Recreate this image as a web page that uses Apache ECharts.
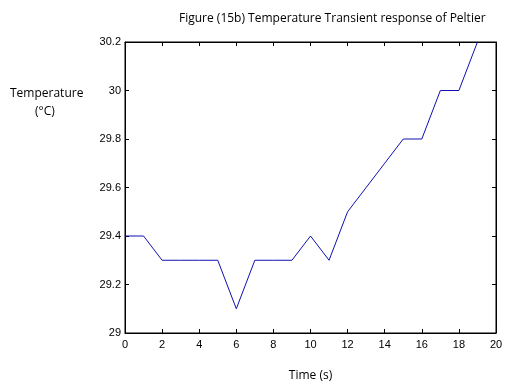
<!DOCTYPE html>
<html>
<head>
<meta charset="utf-8">
<script src="https://cdn.jsdelivr.net/npm/echarts@6/dist/echarts.min.js"></script>
<style>html,body{margin:0;padding:0;background:#fff}#c{width:509px;height:388px}</style>
</head>
<body>
<div id="c"></div>
<script>
var timeS = [0,1,2,3,4,5,6,7,8,9,10,11,12,13,14,15,16,17,18,19];
var temperature = [29.4,29.4,29.3,29.3,29.3,29.3,29.1,29.3,29.3,29.3,29.4,29.3,29.5,29.6,29.7,29.8,29.8,30.0,30.0,30.2];
var titleText = 'Figure (15b) Temperature Transient response of Peltier';
var xName = 'Time (s)';
var yNameLines = ['Temperature', '(\u00b0C)'];

var chart = echarts.init(document.getElementById('c'));
var labelFont = {color:'#000', fontFamily:'Liberation Sans', fontSize:11};
var textFont = 'Open Sans';
var pts = timeS.map(function(t,i){return [t, temperature[i]];});
function frameAxis(pos, isX){
  var a = {type:'value', position:pos, show:true,
    axisLine:{show:true, onZero:false, lineStyle:{color:'#000'}},
    axisTick:{show:true, inside:true, length:4, lineStyle:{color:'#000'}},
    axisLabel:{show:false}, splitLine:{show:false}};
  if (isX) { a.min = 0; a.max = 20; a.interval = 2; }
  else { a.min = 29; a.max = 30.2; a.interval = 0.2; }
  return a;
}
chart.setOption({
  animation:false,
  backgroundColor:'#fff',
  title:{text:titleText, left:174, top:8, textStyle:{fontFamily:textFont, fontSize:12, fontWeight:'normal', color:'#000'}},
  grid:{left:125, right:13, top:42, bottom:55, show:true, borderColor:'#000', borderWidth:1},
  xAxis:[
    {type:'value', min:0, max:20, interval:2, position:'bottom',
     axisLine:{show:true, onZero:false, lineStyle:{color:'#000'}},
     axisTick:{show:true, inside:true, length:4, lineStyle:{color:'#000'}},
     axisLabel:Object.assign({margin:6}, labelFont),
     splitLine:{show:false},
     name:xName, nameLocation:'middle', nameGap:37,
     nameTextStyle:{fontFamily:textFont, fontSize:12, color:'#000'}},
    frameAxis('top', true)
  ],
  yAxis:[
    {type:'value', min:29, max:30.2, interval:0.2, position:'left',
     axisLine:{show:true, onZero:false, lineStyle:{color:'#000'}},
     axisTick:{show:true, inside:true, length:4, lineStyle:{color:'#000'}},
     axisLabel:Object.assign({margin:4, formatter:function(v){return String(Math.round(v*10)/10);}}, labelFont),
     splitLine:{show:false}},
    frameAxis('right', false)
  ],
  graphic:[
    {type:'text', left:10, top:88, style:{text:yNameLines[0], fontFamily:textFont, fontSize:12, fill:'#000'}},
    {type:'text', left:35, top:106, style:{text:yNameLines[1], fontFamily:textFont, fontSize:12, fill:'#000'}}
  ],
  series:[{
    type:'line', xAxisIndex:0, yAxisIndex:0,
    data:pts,
    showSymbol:false, symbol:'none',
    lineStyle:{color:'#1010b0', width:1},
    clip:true
  },{
    type:'line', xAxisIndex:1, yAxisIndex:1,
    data:pts, silent:true,
    showSymbol:false, symbol:'none',
    lineStyle:{opacity:0, width:0},
    clip:true
  }]
});
</script>
</body>
</html>
